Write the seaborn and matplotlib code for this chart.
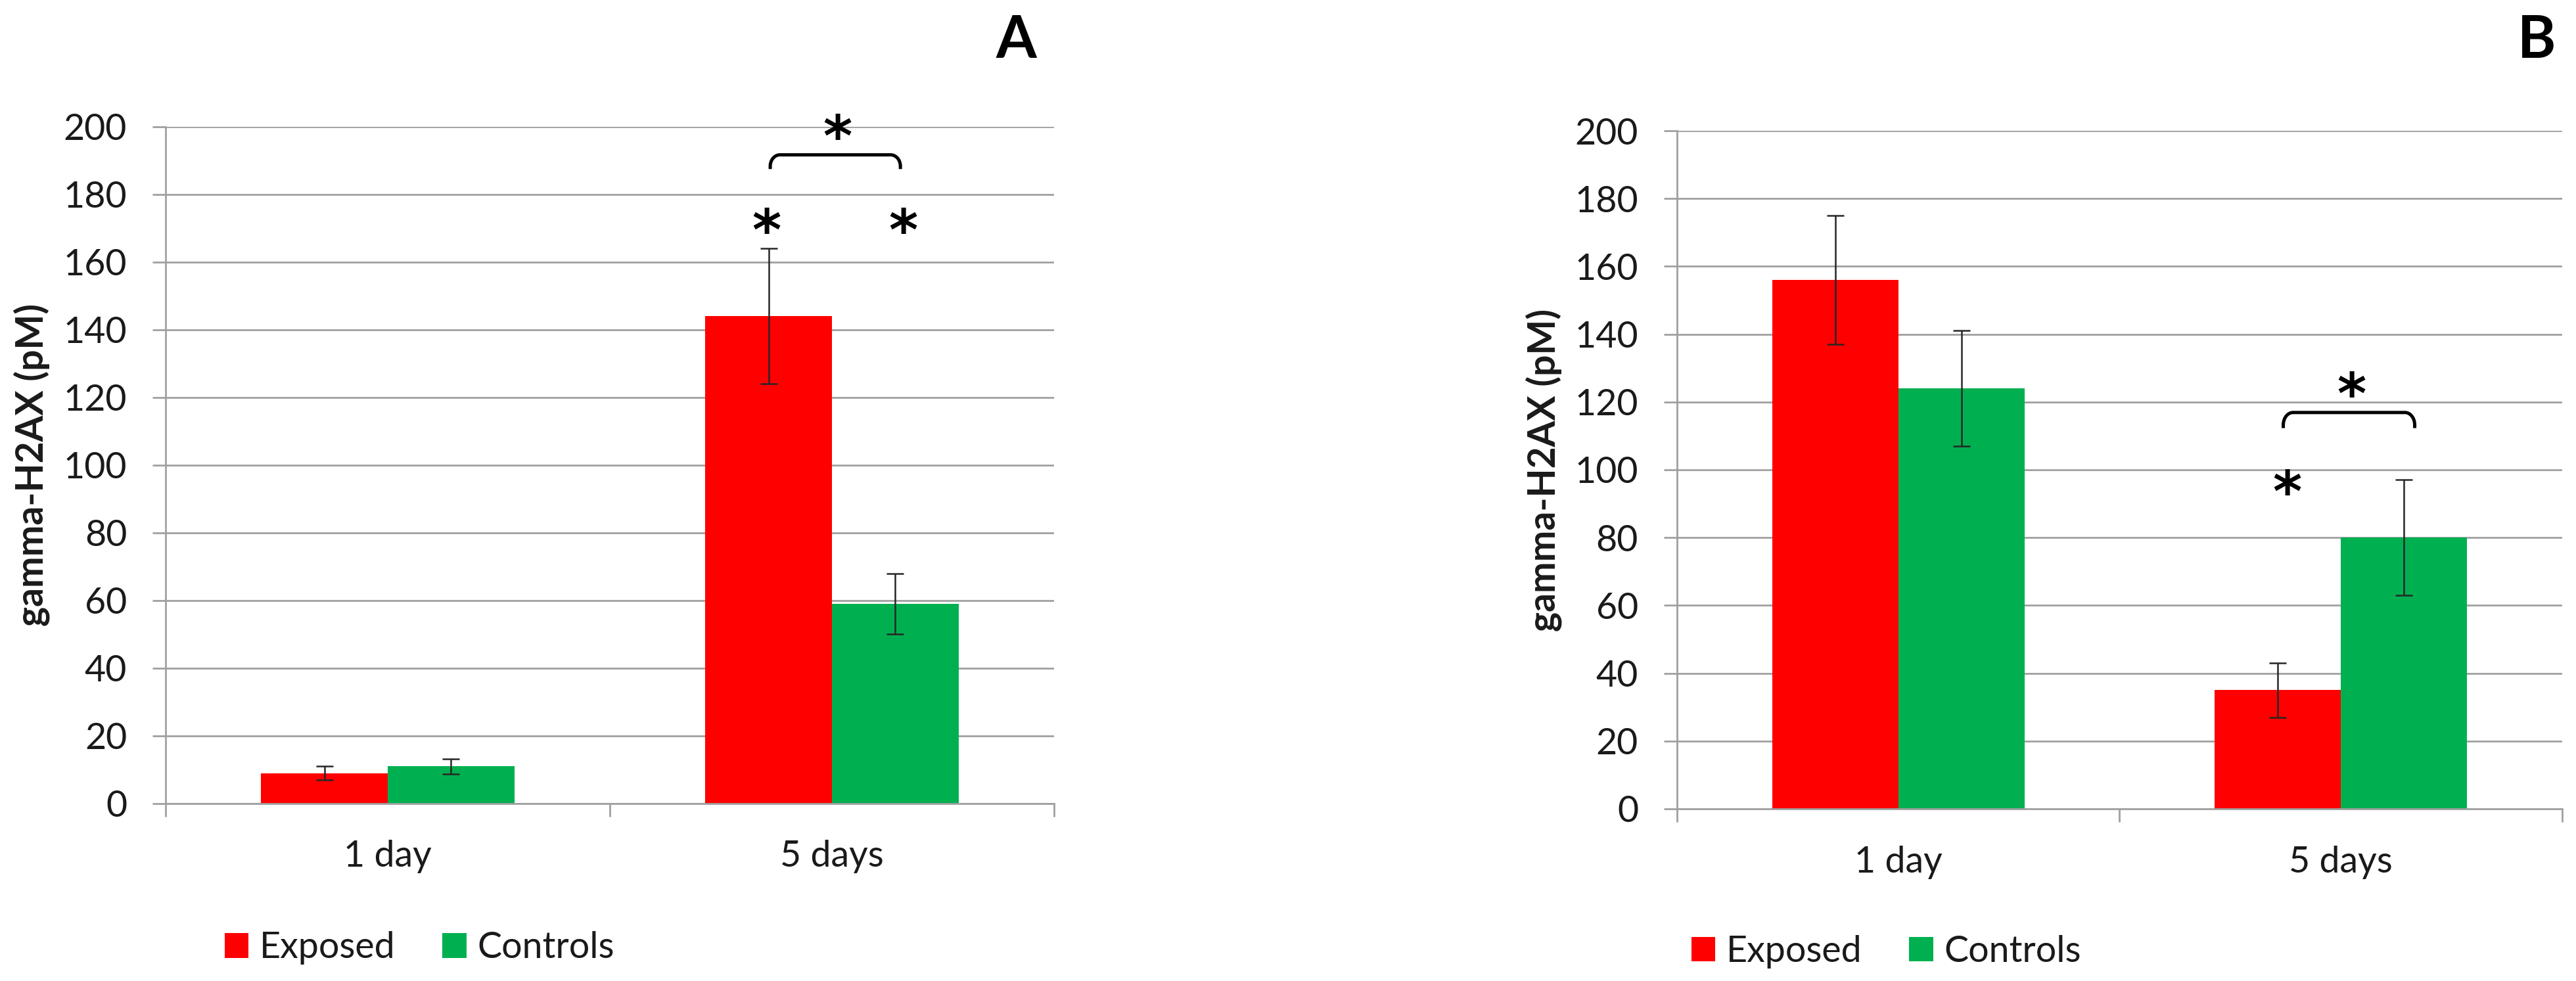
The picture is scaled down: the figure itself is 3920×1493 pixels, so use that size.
import numpy as np
import pandas as pd
import matplotlib
matplotlib.use("Agg")
import matplotlib.pyplot as plt
from matplotlib.patches import Patch
import seaborn as sns

# ---------------- data ----------------
days = ["1 day", "5 days"]
groups = ["Exposed", "Controls"]
colors = ["#FF0000", "#00B050"]

a_exposed = [9, 144]
a_exposed_err = [2, 20]
a_controls = [11, 59]
a_controls_err = [2.2, 9]

b_exposed = [156, 35]
b_exposed_err = [19, 8]
b_controls = [124, 80]
b_controls_err = [17, 17]

y_ticks = [0, 20, 40, 60, 80, 100, 120, 140, 160, 180, 200]
panel_labels = ["A", "B"]
y_label = "gamma-H2AX (pM)"

# significance annotations (data coordinates)
a_star_x = [0.853, 1.161, 1.013]
a_star_y = [172.8, 172.8, 200.6]
a_bracket = [0.861, 1.154, 191.7, 187.5]
b_star_x = [0.879, 1.024]
b_star_y = [96.9, 125.8]
b_bracket = [0.870, 1.167, 116.9, 112.3]

# ---------------- style ----------------
sns.set_style("white")
plt.rcParams["font.family"] = ["Lato", "DejaVu Sans"]

GRID = "#A0A0A0"
TXT = "#1a1a1a"
FS = 40

fig = plt.figure(figsize=(39.2, 14.93), dpi=100)
axA = fig.add_axes([0.0643, 0.1809, 0.3449, 0.6899])
axB = fig.add_axes([0.6510, 0.1755, 0.3436, 0.6912])


def bracket(ax, x0, x1, ytop, yend):
    rx = 0.022
    ry = (ytop - yend) * 0.8
    t = np.linspace(0, np.pi / 2, 30)
    lx = x0 + rx - rx * np.cos(t)
    ly = ytop - ry + ry * np.sin(t)
    rxs = x1 - rx + rx * np.sin(t)
    rys = ytop - ry + ry * np.cos(t)
    xs = np.concatenate([[x0], lx, rxs, [x1]])
    ys = np.concatenate([[yend], ly, rys, [yend]])
    ax.plot(xs, ys, color="black", lw=3.6, solid_capstyle="butt", zorder=4)


def draw(ax, exposed, exp_err, controls, ctrl_err, star_x, star_y, br, letter_x, letter):
    df = pd.DataFrame({
        "day": days * 2,
        "group": [g for g in groups for _ in days],
        "value": exposed + controls,
    })
    sns.barplot(data=df, x="day", y="value", hue="group", hue_order=groups,
                palette=colors, width=0.57, errorbar=None, saturation=1,
                legend=False, ax=ax, linewidth=0)
    ax.set_axisbelow(True)
    for cont, errs in zip(ax.containers, [exp_err, ctrl_err]):
        xs = [b.get_x() + b.get_width() / 2 for b in cont]
        ys = [b.get_height() for b in cont]
        ax.errorbar(xs, ys, yerr=errs, fmt="none", ecolor="#262626",
                    elinewidth=1.8, capsize=9.7, capthick=1.8, zorder=3)

    ax.set_xlim(-0.5, 1.5)
    ax.set_ylim(0, 200)
    ax.set_yticks(y_ticks)
    ax.set_yticklabels([str(v) for v in y_ticks])
    ax.set_xticks([-0.5, 0.5, 1.5], minor=True)
    ax.tick_params(axis="y", which="major", length=14.4, width=2, color=GRID,
                   pad=28, labelsize=FS, labelcolor=TXT, left=True)
    ax.tick_params(axis="x", which="major", length=0, pad=40, labelsize=FS,
                   labelcolor=TXT)
    ax.tick_params(axis="x", which="minor", length=14.4, width=2, color=GRID,
                   bottom=True)
    ax.yaxis.grid(True, color=GRID, lw=2)
    ax.xaxis.grid(False)
    for s in ["top", "right"]:
        ax.spines[s].set_visible(False)
    for s in ["left", "bottom"]:
        ax.spines[s].set_color(GRID)
        ax.spines[s].set_linewidth(2)
    ax.set_xlabel("")
    ax.set_ylabel(y_label, fontsize=41, fontweight="bold", color=TXT)
    ax.yaxis.set_label_coords(-0.13, 0.5)

    for x, y in zip(star_x, star_y):
        ax.annotate("*", xy=(x, y), xytext=(0, -34), textcoords="offset points",
                    ha="center", va="baseline", fontsize=61, fontweight="bold",
                    family="DejaVu Sans", color="black", annotation_clip=False)
    bracket(ax, *br)
    fig.text(letter_x, 0.941, letter, fontsize=64, fontweight="bold",
             ha="center", va="baseline", color="black")


draw(axA, a_exposed, a_exposed_err, a_controls, a_controls_err,
     a_star_x, a_star_y, a_bracket, 0.3944, panel_labels[0])
draw(axB, b_exposed, b_exposed_err, b_controls, b_controls_err,
     b_star_x, b_star_y, b_bracket, 0.9847, panel_labels[1])

handles = [Patch(facecolor=c, edgecolor="none", label=g) for g, c in zip(groups, colors)]
for anchor in [(0.0872, 0.0335), (0.6566, 0.0301)]:
    fig.legend(handles=handles, loc="center left", bbox_to_anchor=anchor, ncol=2,
               frameon=False, fontsize=FS, handlelength=0.65, handleheight=0.65,
               handletextpad=0.3, columnspacing=1.3, borderpad=0, borderaxespad=0,
               labelcolor=TXT)

fig.savefig("out.png", dpi=100, facecolor="white")
